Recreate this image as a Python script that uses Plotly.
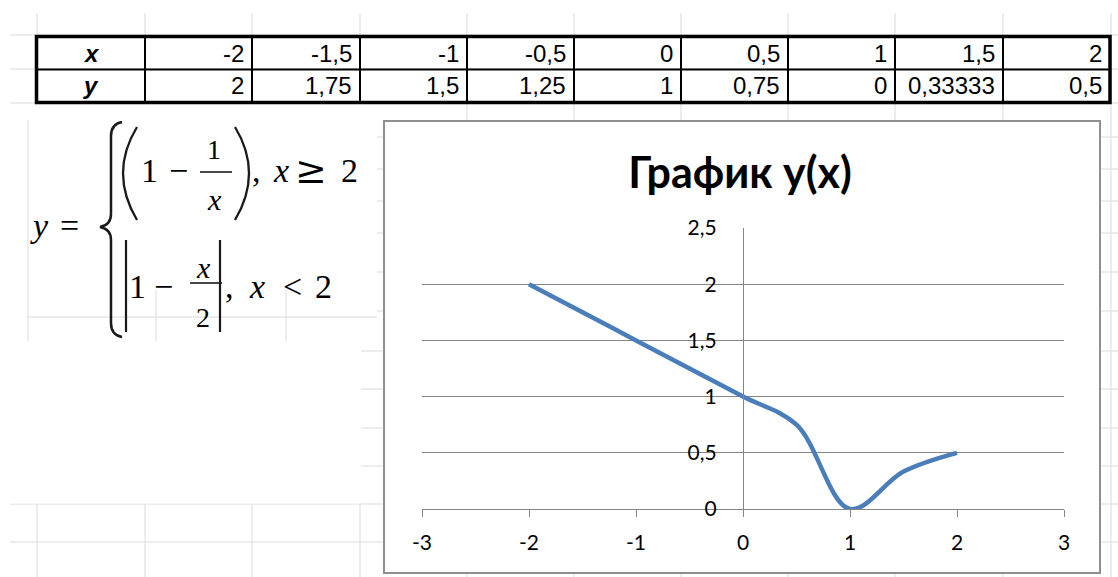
import plotly.graph_objects as go

# ---- data ---------------------------------------------------------------
x_vals = [-2, -1.5, -1, -0.5, 0, 0.5, 1, 1.5, 2]
y_vals = [2, 1.75, 1.5, 1.25, 1, 0.75, 0, 0.33333, 0.5]
x_ticks = [-3, -2, -1, 0, 1, 2, 3]
y_ticks = [0, 0.5, 1, 1.5, 2, 2.5]
title_text = "График y(x)"

# ---- page geometry (pixels) -------------------------------------------
W, H = 1118, 577


def px(x):
    return x / W


def py(y):
    return 1 - y / H


def fmt(v):
    return f"{v:g}".replace(".", ",")


def seg(x0, y0, x1, y1, color, width, layer="below"):
    return dict(type="line", xref="paper", yref="paper",
                x0=px(x0), y0=py(y0), x1=px(x1), y1=py(y1),
                line=dict(color=color, width=width), layer=layer)


def box(x0, y0, x1, y1, fill, color=None, width=0):
    return dict(type="rect", xref="paper", yref="paper",
                x0=px(x0), y0=py(y0), x1=px(x1), y1=py(y1),
                fillcolor=fill,
                line=dict(color=color or fill, width=width), layer="below")


def curve(cmds, color, width):
    parts = []
    for c in cmds:
        if isinstance(c, str):
            parts.append(c)
        else:
            parts.append(f"{px(c[0]):.5f},{py(c[1]):.5f}")
    return dict(type="path", xref="paper", yref="paper", path=" ".join(parts),
                line=dict(color=color, width=width),
                fillcolor="rgba(0,0,0,0)", layer="below")


def label(x, y, text, size, family, xanchor="center", color="#000"):
    return dict(x=px(x), y=py(y), xref="paper", yref="paper", text=text,
                showarrow=False, xanchor=xanchor, yanchor="middle",
                font=dict(family=family, size=size, color=color))


shapes = []
annotations = []

# ---- worksheet grid ----------------------------------------------------
cell_grey = "#d9dbdd"
cols = [37, 145, 252, 360, 467, 574, 681, 788, 895, 1003, 1111]
rows = [35, 69, 103, 137, 169, 201, 233, 272, 311, 351, 389, 428, 466, 504, 542]
for c in cols:
    shapes.append(seg(c, 13, c, H, cell_grey, 1))
for r in rows:
    shapes.append(seg(10, r, W, r, cell_grey, 1))

# picture holding the formula and the empty block below it
shapes.append(box(0, 104, 377, 341, "white"))
shapes.append(box(0, 341, 361, 503.5, "white"))
shapes.append(seg(28, 120, 28, 341, cell_grey, 1))
shapes.append(seg(28, 317, 377, 317, cell_grey, 1))
shapes.append(seg(156, 290, 156, 341, cell_grey, 1))
shapes.append(seg(286, 290, 286, 341, cell_grey, 1))

# chart frame
shapes.append(box(384, 121, 1100, 573, "white", "#8f8f8f", 2))

# ---- value table ------------------------------------------------------
tab_top, tab_mid, tab_bot = 36.5, 69.5, 102.5
tab_left, tab_right = 36.5, 1110
tab_cols = [145, 252, 360, 467, 574, 681, 788, 895, 1003]
shapes.append(seg(tab_left, tab_mid, tab_right, tab_mid, "#000", 2, "above"))
for c in tab_cols:
    shapes.append(seg(c, tab_top, c, tab_bot, "#000", 2, "above"))
shapes.append(dict(type="rect", xref="paper", yref="paper",
                   x0=px(tab_left), y0=py(tab_top), x1=px(tab_right), y1=py(tab_bot),
                   line=dict(color="#000", width=3.5), layer="above"))

tab_font = "Liberation Sans, Arial"
annotations.append(label(91, 53, "<b><i>x</i></b>", 24, tab_font))
annotations.append(label(91, 86, "<b><i>y</i></b>", 24, tab_font))
right_edges = [c - 6 for c in tab_cols[1:]] + [tab_right - 6]
for xv, yv, xr in zip(x_vals, y_vals, right_edges):
    annotations.append(label(xr, 53, fmt(xv), 24, tab_font, xanchor="right"))
    annotations.append(label(xr, 86, fmt(yv), 24, tab_font, xanchor="right"))

# ---- piecewise formula ------------------------------------------------
ink = "#1a1a1a"
serif = "Liberation Serif, DejaVu Serif, serif"
# brace
shapes.append(curve(["M", (122, 122), "Q", (111, 124), (111, 136), "L", (111, 214),
                     "Q", (111, 225), (100, 227), "Q", (111, 229), (111, 240),
                     "L", (111, 323), "Q", (111, 335), (122, 337)], ink, 2.5))
# parentheses of the first branch
shapes.append(curve(["M", (137, 127), "Q", (109, 173), (137, 220)], ink, 2.3))
shapes.append(curve(["M", (235, 127), "Q", (263, 173), (235, 220)], ink, 2.3))
# absolute-value bars of the second branch
shapes.append(seg(126, 240, 126, 332, ink, 2.2))
shapes.append(seg(220, 240, 220, 332, ink, 2.2))
# fraction bars
shapes.append(seg(200, 172, 232, 172, ink, 1.6))
shapes.append(seg(190, 283, 222, 283, ink, 1.6))

annotations += [
    label(39, 225, "<i>y</i>", 34, serif),
    label(69, 225, "=", 34, serif),
    # x >= 2 branch
    label(149, 171, "1", 34, serif),
    label(178, 171, "−", 34, serif),
    label(214, 149, "1", 28, serif),
    label(214, 200, "<i>x</i>", 30, serif),
    label(256, 171, ",", 34, serif),
    label(281, 171, "<i>x</i>", 34, serif),
    label(311, 170, "≥", 38, "DejaVu Serif, serif"),
    label(349, 171, "2", 34, serif),
    # x < 2 branch
    label(137, 286, "1", 34, serif),
    label(163, 286, "−", 34, serif),
    label(203, 267, "<i>x</i>", 30, serif),
    label(203, 317, "2", 28, serif),
    label(229, 286, ",", 34, serif),
    label(257, 286, "<i>x</i>", 34, serif),
    label(292, 286, "<", 34, serif),
    label(323, 286, "2", 34, serif),
]

# ---- chart ---------------------------------------------------------------
axis_grey = "#868686"
chart_font = "Lato, Open Sans, sans-serif"
x_dom = [px(422), px(1064)]
y_dom = [py(509), py(228)]

fig = go.Figure()
fig.add_trace(go.Scatter(
    x=x_vals, y=y_vals, mode="lines",
    line=dict(color="#4a7ebb", width=4.5, shape="spline", smoothing=1),
    showlegend=False, hoverinfo="skip"))

fig.update_layout(
    width=W, height=H,
    autosize=False,
    margin=dict(l=0, r=0, t=0, b=0, pad=0, autoexpand=False),
    paper_bgcolor="white",
    plot_bgcolor="rgba(0,0,0,0)",
    separators=", ",
    title=dict(text=f"<b>{title_text}</b>", x=px(740), y=py(173),
               xanchor="center", yanchor="middle", xref="paper", yref="paper",
               automargin=False,
               font=dict(family=chart_font, size=43, color="#000")),
    xaxis=dict(domain=x_dom, range=[-3, 3], tickvals=x_ticks,
               ticktext=[fmt(v) for v in x_ticks], automargin=False,
               showgrid=False, zeroline=False,
               showline=True, linecolor=axis_grey, linewidth=1.3,
               ticks="outside", ticklen=7, tickwidth=1.3, tickcolor=axis_grey,
               ticklabelstandoff=8,
               tickfont=dict(family=chart_font, size=21, color="#000")),
    yaxis=dict(domain=y_dom, range=[0, 2.5], tickvals=y_ticks,
               ticktext=[fmt(v) for v in y_ticks], automargin=False,
               anchor="free", position=px(743),
               showgrid=True, gridcolor=axis_grey, gridwidth=1.3,
               zeroline=False, showline=True, linecolor=axis_grey, linewidth=1.3,
               ticks="", ticklabelstandoff=22,
               tickfont=dict(family=chart_font, size=21, color="#000")),
    shapes=shapes,
    annotations=annotations,
)

fig.write_html("out.html")
